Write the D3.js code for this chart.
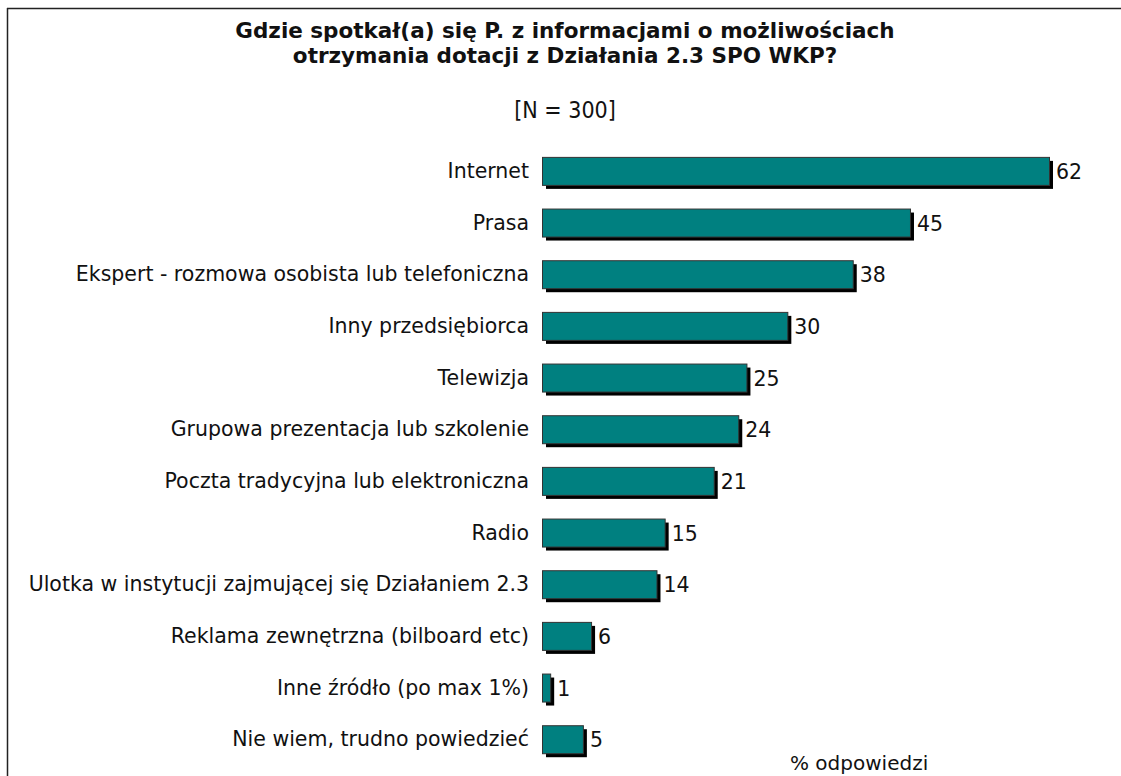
<!DOCTYPE html>
<html>
<head>
<meta charset="utf-8">
<script src="https://cdn.jsdelivr.net/npm/d3@7"></script>
<style>
  body { margin:0; background:#fff; }
  svg text { fill:#111; }
</style>
</head>
<body>
<div id="chart"></div>
<script>
var categories = [
  'Internet',
  'Prasa',
  'Ekspert - rozmowa osobista lub telefoniczna',
  'Inny przedsiębiorca',
  'Telewizja',
  'Grupowa prezentacja lub szkolenie',
  'Poczta tradycyjna lub elektroniczna',
  'Radio',
  'Ulotka w instytucji zajmującej się Działaniem 2.3',
  'Reklama zewnętrzna (bilboard etc)',
  'Inne źródło (po max 1%)',
  'Nie wiem, trudno powiedzieć'
];
var values = [62, 45, 38, 30, 25, 24, 21, 15, 14, 6, 1, 5];
var titleLines = [
  'Gdzie spotkał(a) się P. z informacjami o możliwościach',
  'otrzymania dotacji z Działania 2.3 SPO WKP?'
];
var subtitle = '[N = 300]';
var axisLabel = '% odpowiedzi';

var W = 1121, H = 776;
var ox = 542, barH = 28, sh = 4;
var font = '"DejaVu Sans",Verdana,sans-serif';

var svg = d3.select('#chart').append('svg').attr('width',W).attr('height',H);

// frame (top + left only)
svg.append('line').attr('x1',7).attr('x2',W).attr('y1',8.5).attr('y2',8.5)
  .attr('stroke','#222').attr('stroke-width',1.5);
svg.append('line').attr('x1',7.5).attr('x2',7.5).attr('y1',8).attr('y2',H)
  .attr('stroke','#222').attr('stroke-width',1.5);

// title
svg.append('g').selectAll('text').data(titleLines).enter()
  .append('text')
  .attr('x',565).attr('y',function(d,i){return 38+i*25;})
  .attr('text-anchor','middle')
  .style('font-family',font)
  .style('font-weight','bold').style('font-size','21.5px')
  .text(function(d){return d;});
svg.append('text').attr('x',565).attr('y',118).attr('text-anchor','middle')
  .style('font-family','"DejaVu Sans Condensed","DejaVu Sans",sans-serif')
  .style('font-size','23px').text(subtitle);

var x = d3.scaleLinear().domain([0,62]).range([0,507]);
var y = d3.scaleBand().domain(categories).range([145,765]).paddingInner(0.46).paddingOuter(0.23);

var rows = svg.append('g').selectAll('.bar').data(values).enter()
  .append('g').attr('class','bar')
  .attr('transform',function(d,i){return 'translate(0,'+y(categories[i])+')';});

// shadow
rows.append('rect')
  .attr('x',ox+sh).attr('y',sh)
  .attr('width',function(d){return x(d);}).attr('height',barH)
  .attr('fill','#000');
// bar
rows.append('rect')
  .attr('x',ox+0.5).attr('y',0.5)
  .attr('width',function(d){return x(d);}).attr('height',barH)
  .attr('fill','#008080').attr('stroke','#333').attr('stroke-width',1);

rows.append('text')
  .attr('x',function(d){return ox+x(d)+sh+3;}).attr('y',barH/2+1)
  .attr('dy','0.35em')
  .style('font-family',font).style('font-size','20.5px')
  .text(function(d){return d;});

rows.append('text')
  .attr('x',529).attr('y',barH/2)
  .attr('dy','0.35em').attr('text-anchor','end')
  .style('font-family',font).style('font-size','20.5px')
  .text(function(d,i){return categories[i];});

svg.append('text').attr('x',790).attr('y',770)
  .style('font-family',font).style('font-size','20px')
  .text(axisLabel);
</script>
</body>
</html>
